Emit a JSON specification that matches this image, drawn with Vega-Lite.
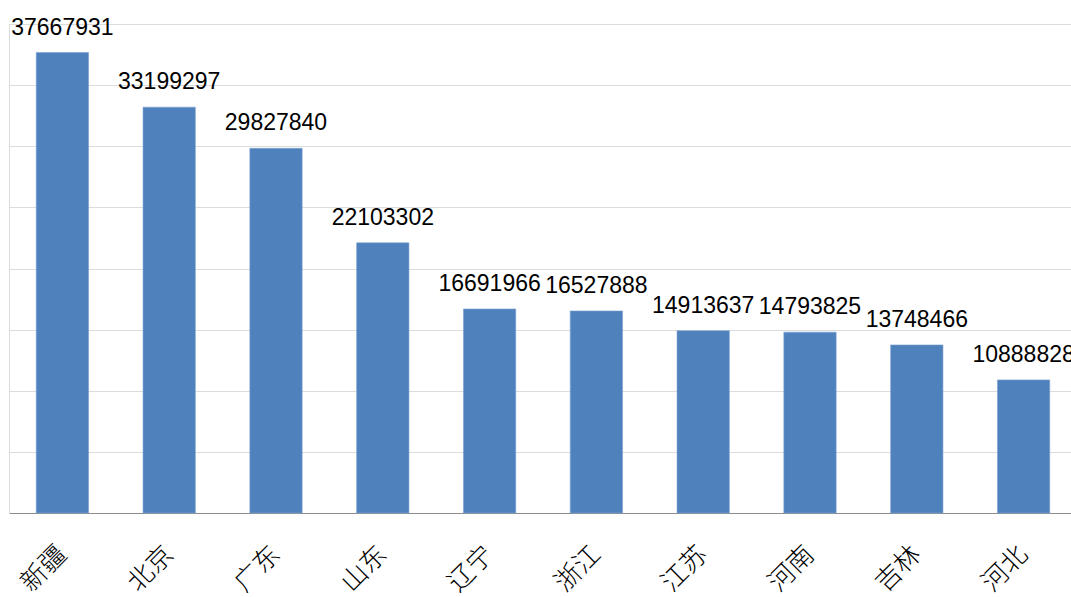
{
  "$schema": "https://vega.github.io/schema/vega-lite/v6.json",
  "autosize": {"type": "none"},
  "width": 1068,
  "height": 489,
  "padding": {"left": 9, "top": 24, "right": 0, "bottom": 84},
  "background": "#ffffff",
  "config": {
    "view": {"stroke": null},
    "font": "Liberation Sans"
  },
  "data": {
    "values": [
      {"province": "新疆", "value": 37667931},
      {"province": "北京", "value": 33199297},
      {"province": "广东", "value": 29827840},
      {"province": "山东", "value": 22103302},
      {"province": "辽宁", "value": 16691966},
      {"province": "浙江", "value": 16527888},
      {"province": "江苏", "value": 14913637},
      {"province": "河南", "value": 14793825},
      {"province": "吉林", "value": 13748466},
      {"province": "河北", "value": 10888828}
    ]
  },
  "encoding": {
    "x": {
      "field": "province",
      "type": "nominal",
      "sort": null,
      "scale": {"paddingInner": 0.51, "paddingOuter": 0.255},
      "axis": {
        "title": null,
        "labelAngle": -45,
        "labelAlign": "right",
        "labelBaseline": "middle",
        "labelFont": "Noto Sans CJK SC",
        "labelFontSize": 26,
        "labelFontWeight": 300,
        "labelColor": "#000000",
        "labelPadding": 37,
        "ticks": false,
        "domainColor": "#8c8c8c",
        "domainWidth": 1.2
      }
    },
    "y": {
      "field": "value",
      "type": "quantitative",
      "scale": {"domain": [0, 40000000], "nice": false},
      "axis": {
        "title": null,
        "labels": false,
        "ticks": false,
        "values": [0, 5000000, 10000000, 15000000, 20000000, 25000000, 30000000, 35000000, 40000000],
        "grid": true,
        "gridColor": "#dcdcdc",
        "gridWidth": 1,
        "domainColor": "#dcdcdc",
        "domainWidth": 1
      }
    }
  },
  "layer": [
    {
      "mark": {"type": "bar", "color": "#4f81bd", "stroke": "#7ea3d3", "strokeWidth": 0.6}
    },
    {
      "mark": {
        "type": "text",
        "baseline": "alphabetic",
        "align": "center",
        "dy": -18,
        "fontSize": 23,
        "font": "Liberation Sans",
        "color": "#000000",
        "clip": false
      },
      "encoding": {"text": {"field": "value", "type": "quantitative", "format": "d"}}
    }
  ]
}
